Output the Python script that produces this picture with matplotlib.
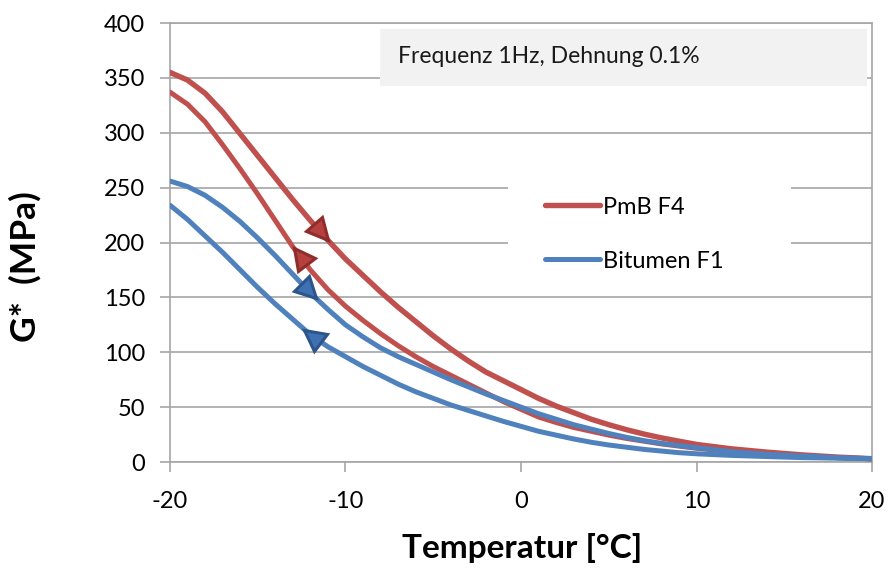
import numpy as np
import matplotlib
matplotlib.use("Agg")
import matplotlib.pyplot as plt
from matplotlib.markers import MarkerStyle
from matplotlib.transforms import Affine2D
from matplotlib.patches import Rectangle

# ---------------- data ----------------
temperature = [-20, -19, -18, -17, -16, -15, -14, -13, -12, -11, -10, -9, -8, -7, -6, -5, -4,
               -3, -2, -1, 0, 1, 2, 3, 4, 5, 6, 7, 8, 9, 10, 12, 14, 16, 18, 20]
pmb_upper = [355, 348, 336, 319, 299, 279, 259, 239, 220, 202, 185, 170, 155, 141, 128, 115, 103,
             92, 82, 74, 66, 58, 51, 45, 39, 34, 29.5, 25.5, 22, 19, 16, 12, 9, 6.5, 4.5, 3]
pmb_lower = [337, 326, 310, 289, 267, 244, 220, 196, 175, 157, 142, 129, 117, 106, 96, 87, 79,
             71, 63, 55, 48, 41, 36, 31.5, 28, 24.5, 21.5, 19, 16.5, 14.5, 12.5, 9.5, 7, 5.5, 4, 3]
bit_upper = [256, 251, 243, 232, 219, 204, 188, 171, 154, 139, 125, 114, 104, 96, 89, 82, 75,
             68.5, 62, 56, 50, 44, 39, 34, 30, 26, 22.5, 19.5, 17, 15, 13, 9.5, 7, 5.5, 4, 3]
bit_lower = [234, 221, 206, 191, 175, 159, 144, 130, 116, 105, 96, 87, 79, 71, 64, 58, 52,
             47, 42, 37, 32.5, 28, 24.5, 21, 18, 15.5, 13.5, 11.5, 10, 8.5, 7.5, 6, 5, 4, 3.5, 3]

series_labels = ["PmB F4", "Bitumen F1"]
x_ticks = [-20, -10, 0, 10, 20]
y_ticks = [0, 50, 100, 150, 200, 250, 300, 350, 400]
x_label = "Temperatur [°C]"
y_label = "G*  (MPa)"
note_text = "Frequenz 1Hz, Dehnung 0.1%"

# arrow markers: temperature where they sit, and direction (+1 = heating, -1 = cooling)
arrow_temp = [-11.4, -12.6, -12.1, -11.9]
arrow_dir = [1, -1, 1, -1]

# ---------------- style ----------------
RED = "#C0504D"
BLUE = "#4F81BD"
RED_EDGE, RED_FACE = "#8E2D2B", "#B6403D"
BLUE_EDGE, BLUE_FACE = "#2B568C", "#3F71B2"
GRID = "#A6A6A6"
FONT = ["Lato", "DejaVu Sans"]

plt.rcParams["font.family"] = FONT
plt.rcParams["axes.unicode_minus"] = False

fig = plt.figure(figsize=(8.89, 5.68), dpi=100)
ax = fig.add_axes([0.1912, 0.1866, 0.7897, 0.7729])

ax.set_xlim(-20, 20)
ax.set_ylim(0, 400)
ax.set_xticks(x_ticks)
ax.set_yticks(y_ticks)
ax.set_axisbelow(True)
ax.yaxis.grid(True, color=GRID, lw=1.2)
ax.xaxis.grid(False)
for s in ax.spines.values():
    s.set_color(GRID)
    s.set_linewidth(1.2)
ax.tick_params(axis="both", labelsize=17, length=7, width=1.2, color=GRID,
               pad=11, direction="out")
ax.tick_params(axis="x", pad=14)

# curves (red first, blue on top)
ln_r, = ax.plot(temperature, pmb_upper, color=RED, lw=3.9, solid_capstyle="round",
                solid_joinstyle="round", label=series_labels[0], zorder=3)
ax.plot(temperature, pmb_lower, color=RED, lw=3.6, solid_capstyle="round",
        solid_joinstyle="round", zorder=3)
ln_b, = ax.plot(temperature, bit_upper, color=BLUE, lw=3.6, solid_capstyle="round",
                solid_joinstyle="round", label=series_labels[1], zorder=4)
ax.plot(temperature, bit_lower, color=BLUE, lw=3.6, solid_capstyle="round",
        solid_joinstyle="round", zorder=4)

# direction triangles along the curves
curves = [pmb_upper, pmb_lower, bit_upper, bit_lower]
edges = [RED_EDGE, RED_EDGE, BLUE_EDGE, BLUE_EDGE]
faces = [RED_FACE, RED_FACE, BLUE_FACE, BLUE_FACE]
fig.canvas.draw()
for curve, t, d, ec, fc in zip(curves, arrow_temp, arrow_dir, edges, faces):
    y = np.interp(t, temperature, curve)
    p0 = ax.transData.transform((t - 0.4, np.interp(t - 0.4, temperature, curve)))
    p1 = ax.transData.transform((t + 0.4, np.interp(t + 0.4, temperature, curve)))
    ang = np.degrees(np.arctan2(p1[1] - p0[1], p1[0] - p0[0]))
    if d < 0:
        ang += 180
    m = MarkerStyle(">", transform=Affine2D().rotate_deg(ang))
    ax.plot([t], [y], marker=m, markersize=15, markerfacecolor=fc,
            markeredgecolor=ec, markeredgewidth=2.2, linestyle="none", zorder=5)

# note box
ax.add_patch(Rectangle((0.299, 0.8565), 0.694, 0.1295, transform=ax.transAxes,
                       facecolor="#F2F2F2", edgecolor="none", zorder=2))
ax.text(0.325, 0.9226, note_text, transform=ax.transAxes, fontsize=16.5,
        va="center", ha="left", color="#1a1a1a", zorder=3)

# legend area (white background over the gridlines)
ax.add_patch(Rectangle((0.481, 0.39), 0.403, 0.30, transform=ax.transAxes,
                       facecolor="white", edgecolor="none", zorder=2))
leg = ax.legend(handles=[ln_r, ln_b], loc="center left",
                bbox_to_anchor=(0.51, 0.519), frameon=False, fontsize=17,
                handlelength=2.35, handletextpad=0.12, labelspacing=1.4,
                borderpad=0.2)
leg.set_zorder(6)

ax.set_xlabel(x_label, fontsize=24, fontweight="bold")
ax.xaxis.set_label_coords(0.501, -0.162)
ax.set_ylabel(y_label, fontsize=25.5, fontweight="bold")
ax.yaxis.set_label_coords(-0.183, 0.444)

fig.savefig("out.png", dpi=100)
